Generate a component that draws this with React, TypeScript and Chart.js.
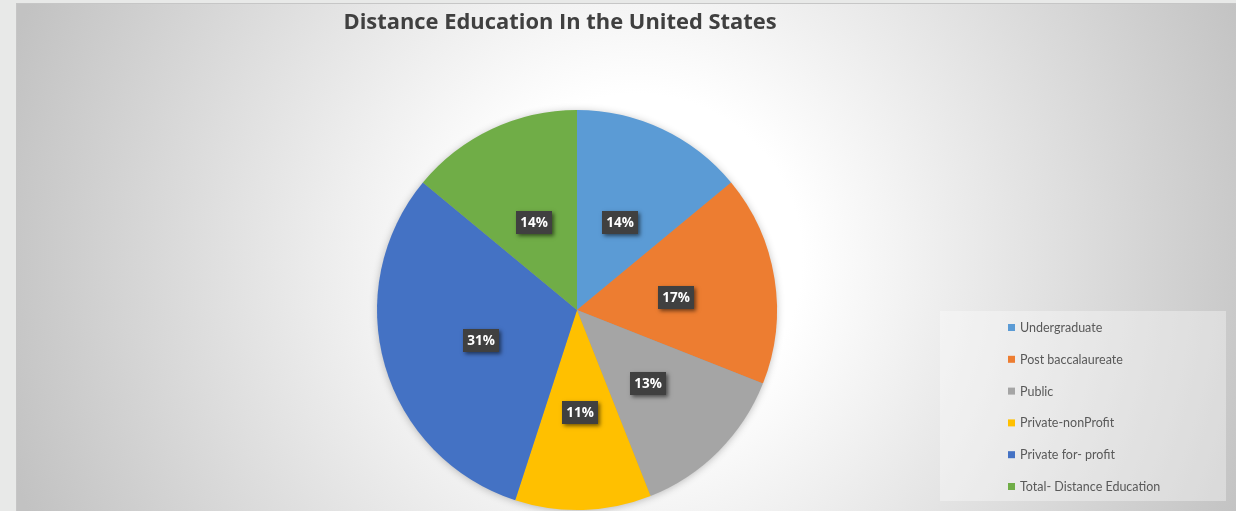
import React, { useEffect, useRef } from "react";
import { Chart, registerables } from "chart.js";

Chart.register(...registerables);

const TITLE = "Distance Education In the United States";
const categories = [
  "Undergraduate",
  "Post baccalaureate",
  "Public",
  "Private-nonProfit",
  "Private for- profit",
  "Total- Distance Education",
];
const values = [14, 17, 13, 11, 31, 14];
const colors = ["#5B9BD5", "#ED7D31", "#A5A5A5", "#FFC000", "#4472C4", "#70AD47"];

const W = 1236;
const H = 511;

const overlayPlugin = {
  id: "overlay",
  beforeDatasetsDraw(chart: any) {
    const ctx = chart.ctx as CanvasRenderingContext2D;
    const arc = chart.getDatasetMeta(0).data[0] as any;
    if (!arc) return;
    ctx.save();
    ctx.shadowColor = "rgba(0,0,0,0.3)";
    ctx.shadowBlur = 8;
    ctx.shadowOffsetX = 0;
    ctx.shadowOffsetY = 1;
    ctx.fillStyle = "#999999";
    ctx.beginPath();
    ctx.arc(arc.x, arc.y, arc.outerRadius - 1, 0, Math.PI * 2);
    ctx.fill();
    ctx.restore();
  },
  afterDatasetsDraw(chart: any) {
    const ctx = chart.ctx as CanvasRenderingContext2D;
    const meta = chart.getDatasetMeta(0);
    const data = chart.data.datasets[0].data as number[];
    const total = data.reduce((a, b) => a + b, 0);
    ctx.save();
    ctx.font = "bold 13.5px 'Open Sans', Lato, sans-serif";
    ctx.textAlign = "center";
    ctx.textBaseline = "middle";
    meta.data.forEach((arc: any, i: number) => {
      const p = arc.tooltipPosition();
      const txt = Math.round((data[i] / total) * 100) + "%";
      const bw = 36;
      const bh = 23;
      const x = Math.round(p.x - bw / 2);
      const y = Math.round(p.y - bh / 2 + 3);
      ctx.save();
      ctx.shadowColor = "rgba(0,0,0,0.55)";
      ctx.shadowBlur = 4;
      ctx.shadowOffsetX = 2;
      ctx.shadowOffsetY = 2;
      ctx.fillStyle = "#404040";
      ctx.fillRect(x, y, bw, bh);
      ctx.restore();
      ctx.fillStyle = "#ffffff";
      ctx.fillText(txt, x + bw / 2, y + bh / 2 + 1);
    });
    ctx.restore();
  },
  afterDraw(chart: any) {
    const ctx = chart.ctx as CanvasRenderingContext2D;
    ctx.save();
    // title
    ctx.font = "bold 21.9px 'Open Sans', Lato, sans-serif";
    ctx.fillStyle = "#404040";
    ctx.textAlign = "center";
    ctx.textBaseline = "alphabetic";
    ctx.fillText(TITLE, 560, 29);
    // legend
    ctx.fillStyle = "rgba(255,255,255,0.35)";
    ctx.fillRect(940, 311, 286, 190);
    ctx.font = "12.5px Lato, 'Open Sans', sans-serif";
    ctx.textAlign = "left";
    ctx.textBaseline = "middle";
    const labels = chart.data.labels as string[];
    const bg = chart.data.datasets[0].backgroundColor as string[];
    labels.forEach((lab, i) => {
      const cy = 328 + i * 31.8;
      ctx.fillStyle = bg[i];
      ctx.fillRect(1008, cy - 4, 7, 7);
      ctx.fillStyle = "#595959";
      ctx.fillText(lab, 1020, cy);
    });
    ctx.restore();
  },
};

export default function App() {
  const ref = useRef<HTMLCanvasElement>(null);
  useEffect(() => {
    if (!ref.current) return;
    const chart = new Chart(ref.current, {
      type: "pie",
      data: {
        labels: categories,
        datasets: [
          {
            data: values,
            backgroundColor: colors,
            borderWidth: 0,
          },
        ],
      },
      options: {
        responsive: false,
        animation: false,
        layout: { padding: { top: 110, bottom: 1, left: 0, right: 82 } },
        plugins: {
          legend: { display: false },
          tooltip: { enabled: false },
          title: { display: false },
        },
      },
      plugins: [overlayPlugin],
    });
    return () => chart.destroy();
  }, []);

  return (
    <div
      style={{
        position: "fixed",
        left: 0,
        top: 0,
        width: W,
        height: H,
        background: "#e8e9e8",
        overflow: "hidden",
      }}
    >
      <div
        style={{
          position: "absolute",
          left: 16,
          top: 3,
          right: 0,
          bottom: 0,
          borderLeft: "1px solid #c6c6c6",
          borderTop: "1px solid #c6c6c6",
          background:
            "radial-gradient(circle 660px at 620px 255px, #ffffff 0%, #ffffff 25%, #c2c2c2 100%)",
        }}
      />
      <canvas
        ref={ref}
        width={W}
        height={H}
        style={{ position: "absolute", left: 0, top: 0, width: W, height: H }}
      />
    </div>
  );
}
